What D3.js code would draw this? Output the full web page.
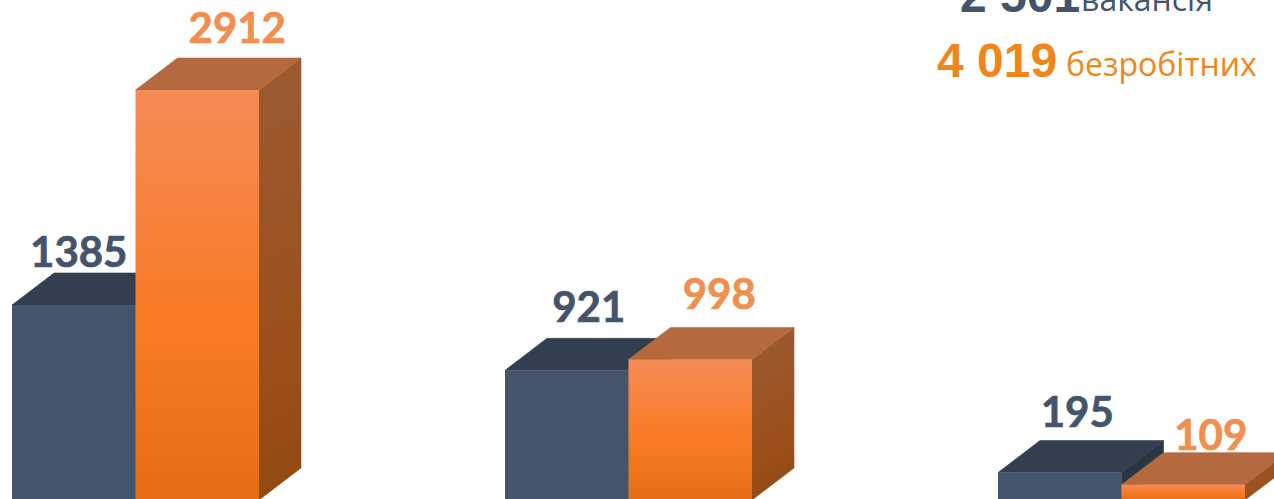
<!DOCTYPE html>
<html>
<head>
<meta charset="utf-8">
<script src="https://cdn.jsdelivr.net/npm/d3@7"></script>
<style>
  html, body { margin: 0; padding: 0; background: #fff; overflow: hidden; }
</style>
</head>
<body>
<div id="chart"></div>
<script>
// the category labels are cropped out of the picture, so groups are just numbered
const groups = ["1", "2", "3"];
const vacancies = [1385, 921, 195];
const unemployed = [2912, 998, 109];
const totals = ["2 501", "4 019"];
const totalWords = ["вакансія", "безробітних"];

const width = 1274;
const height = 499;
const depthX = 42;
const depthY = 32;

// hand placed value labels, offset from the front-top centre of each bar
const vacancyNudge = [[5, -38], [22, -48], [17.5, -46]];
const unemployedNudge = [[40, -47], [29, -50], [27.5, -35]];

const svg = d3.select("#chart")
  .append("svg")
  .attr("width", width)
  .attr("height", height)
  .style("display", "block");

const x = d3.scaleBand()
  .domain(groups)
  .range([12, 1245])
  .paddingInner(0.499);

const sub = d3.scaleBand()
  .domain(["vacancies", "unemployed"])
  .range([0, x.bandwidth()]);

const y = d3.scaleLinear()
  .domain([0, 2912])
  .range([500, 90]);

const defs = svg.append("defs");

// one gradient pair for each orange bar, the fade follows the bar height
unemployed.forEach((v, i) => {
  const g = defs.append("linearGradient")
    .attr("id", "front" + i)
    .attr("x1", 0).attr("y1", 0).attr("x2", 0).attr("y2", 1);
  g.append("stop").attr("offset", "0%").attr("stop-color", "#f48c57");
  g.append("stop").attr("offset", "55%").attr("stop-color", "#f97b25");
  g.append("stop").attr("offset", "100%").attr("stop-color", "#e56d17");

  // side face fades on a slant, so it has to be in page units
  const left = x(groups[i]) + sub("unemployed") + sub.bandwidth();
  const s = defs.append("linearGradient")
    .attr("id", "side" + i)
    .attr("gradientUnits", "userSpaceOnUse")
    .attr("x1", left)
    .attr("y1", y(v) - depthY)
    .attr("x2", left + depthX + (y(0) - y(v)) * 0.4)
    .attr("y2", y(0));
  s.append("stop").attr("offset", "0%").attr("stop-color", "#9c5a33");
  s.append("stop").attr("offset", "60%").attr("stop-color", "#9b4f19");
  s.append("stop").attr("offset", "100%").attr("stop-color", "#8c440c");
});

function drawBar(parent, left, w, top, colors) {
  const bottom = y(0);
  const right = left + w;
  // same colour stroke closes the seams between the faces
  parent.append("path")
    .attr("d", `M${right},${top}L${right + depthX},${top - depthY}L${right + depthX},${bottom - depthY}L${right},${bottom}Z`)
    .attr("fill", colors.side)
    .attr("stroke", colors.side)
    .attr("stroke-width", 0.6);
  parent.append("path")
    .attr("d", `M${left},${top}L${left + depthX},${top - depthY}L${right + depthX},${top - depthY}L${right},${top}Z`)
    .attr("fill", colors.top)
    .attr("stroke", colors.top)
    .attr("stroke-width", 0.6);
  parent.append("rect")
    .attr("x", left)
    .attr("y", top)
    .attr("width", w)
    .attr("height", bottom - top)
    .attr("fill", colors.front);
}

groups.forEach((g, i) => {
  const group = svg.append("g").attr("class", "group");
  drawBar(group, x(g) + sub("vacancies"), sub.bandwidth(), y(vacancies[i]), {
    front: "#44546a", top: "#333f50", side: "#2b3544"
  });
  drawBar(group, x(g) + sub("unemployed"), sub.bandwidth(), y(unemployed[i]), {
    front: `url(#front${i})`, top: "#b5693f", side: `url(#side${i})`
  });
});

function drawLabels(values, key, nudge, color) {
  svg.append("g")
    .selectAll("text")
    .data(values)
    .join("text")
    .attr("x", (d, i) => x(groups[i]) + sub(key) + sub.bandwidth() / 2 + nudge[i][0])
    .attr("y", (d, i) => y(d) + nudge[i][1])
    .attr("text-anchor", "middle")
    .style("font-family", "Lato, sans-serif")
    .style("font-weight", "700")
    .style("font-size", "42px")
    .style("fill", color)
    .style("stroke", color)
    .style("stroke-width", "0.7px")
    .text(d => d);
}

drawLabels(vacancies, "vacancies", vacancyNudge, "#44546a");
drawLabels(unemployed, "unemployed", unemployedNudge, "#f08f4f");

// totals in the top right corner, first line runs off the top edge
const totalColors = ["#44546a", "#f0861a"];
const totalX = [960, 937];
const wordX = [1081, 1066];
const totalY = [12, 77];

totals.forEach((t, i) => {
  svg.append("text")
    .attr("x", totalX[i])
    .attr("y", totalY[i])
    .style("font-family", "'Liberation Sans', Arial, sans-serif")
    .style("font-weight", "700")
    .style("font-size", "48px")
    .style("fill", totalColors[i])
    .text(t);
  svg.append("text")
    .attr("x", wordX[i])
    .attr("y", totalY[i] - 1)
    .style("font-family", "'Open Sans', sans-serif")
    .style("font-size", "32px")
    .style("fill", totalColors[i])
    .text(totalWords[i]);
});
</script>
</body>
</html>
